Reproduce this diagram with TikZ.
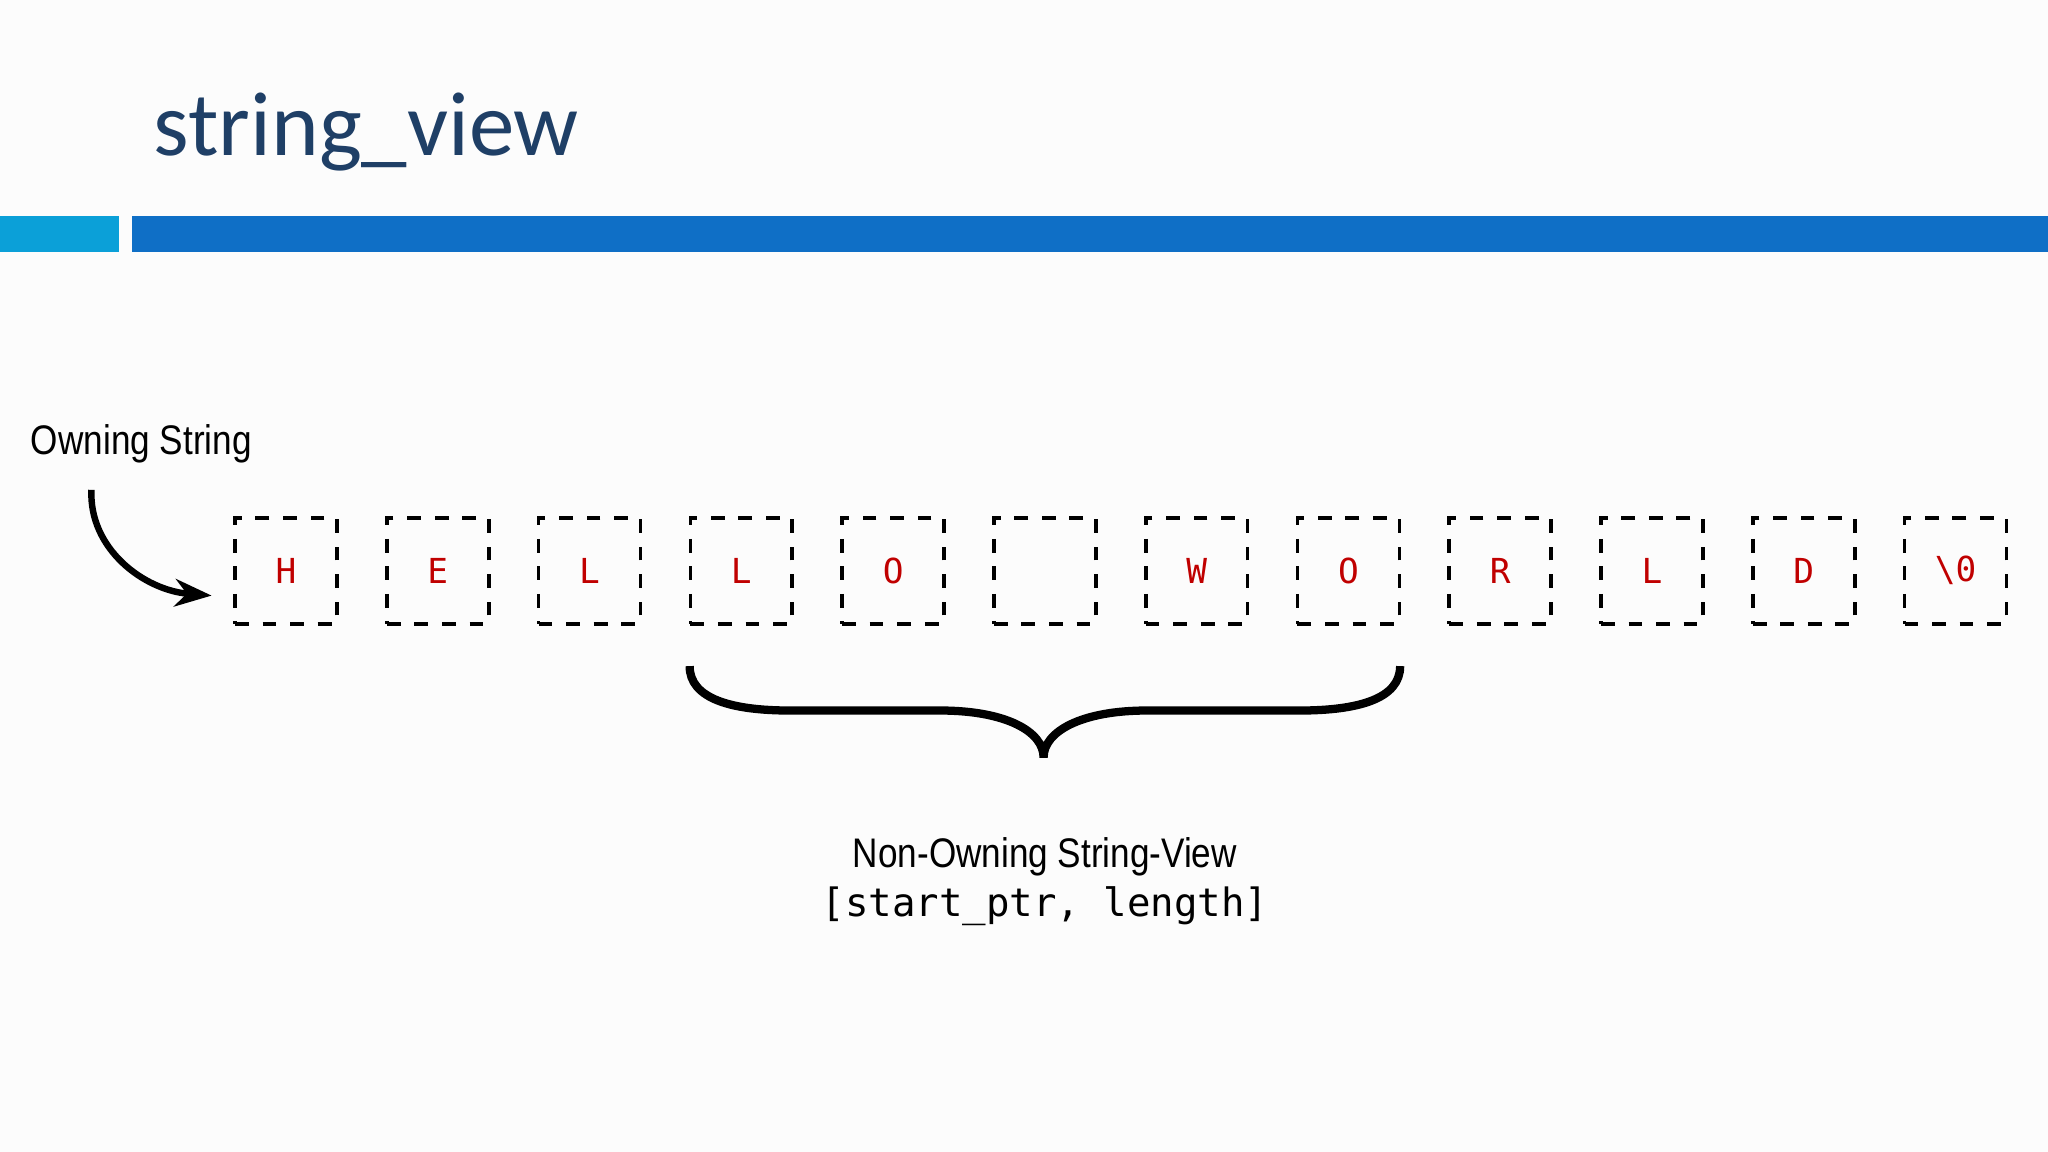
\documentclass[tikz,border=0pt]{standalone}
\usepackage{fontspec}
\setmainfont{Liberation Sans}
\newfontfamily\titlefont{Carlito}
\setmonofont{DejaVu Sans Mono}
\usetikzlibrary{arrows.meta}
\definecolor{titleblue}{HTML}{1F3F66}
\definecolor{lightbar}{HTML}{0BA0D8}
\definecolor{darkbar}{HTML}{0F6FC6}
\definecolor{chred}{HTML}{C00000}
\tikzset{
  cell/.style={draw, dashed, line width=0.8pt, minimum width=0.78cm, minimum height=0.81cm, inner sep=0pt, text=chred, font=\ttfamily\fontsize{7.5}{9}\selectfont},
  lbl/.style={font=\fontsize{9}{11}\selectfont, inner sep=0pt},
}
\begin{document}
\begin{tikzpicture}[x=0.01cm,y=-0.01cm]
\fill[white!98!gray] (0,0) rectangle (1568,882);
\useasboundingbox (0,0) rectangle (1568,882);
\node[anchor=base west, text=titleblue, font=\titlefont\fontsize{19.8}{23}\selectfont, inner sep=0pt] (title) at (117,119) {string\_view};
\fill[lightbar] (0,165) rectangle (91,193);
\fill[darkbar] (101,165) rectangle (1568,193);
\foreach \i/\c in {0/H,1/E,2/L,3/L,4/O,5/{},6/W,7/O,8/R,9/L,10/D,11/{\textbackslash0}} {
  \node[cell] (c\i) at ({219+116.2*\i},437) {\c};
}
\node[lbl, anchor=west, font=\fontsize{9}{11}\selectfont\addfontfeature{FakeStretch=0.85}] (own) at (23,340) {Owning String};
\coordinate (arrs) at (70,375);
\coordinate (arre) at (162,456);
\draw[-{Stealth[length=8pt,width=6pt]}, line width=1.4pt] (arrs) .. controls (68,420) and (110,452) .. (arre);
\coordinate (btip) at (799,580);
\draw[line width=1.8pt] (528,510) .. controls (528,535) and (560,544) .. (605,544) -- (720,544)
  .. controls (770,544) and (799,560) .. (btip)
  .. controls (799,560) and (828,544) .. (878,544) -- (995,544)
  .. controls (1040,544) and (1072,535) .. (1072,510);
\node[lbl, font=\fontsize{9}{11}\selectfont\addfontfeature{FakeStretch=0.85}] (nov) at (800,656) {Non-Owning String-View};
\node[lbl, font=\ttfamily\fontsize{8.5}{11}\selectfont] (sig) at (800,694) {[start\_ptr, length]};
\end{tikzpicture}
\end{document}
